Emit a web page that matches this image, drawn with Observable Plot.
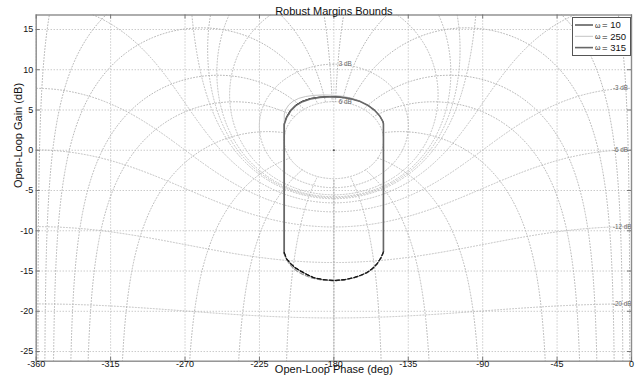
<!DOCTYPE html>
<html><head><meta charset="utf-8">
<script src="https://cdn.jsdelivr.net/npm/d3@7"></script>
<script src="https://cdn.jsdelivr.net/npm/@observablehq/plot@0.6"></script>
<style>
body{margin:0;background:#fff;}
#wrap{position:relative;width:637px;height:380px;font-family:"Liberation Sans",Arial,sans-serif;}
#legend{position:absolute;left:572px;top:17px;}
</style></head><body><div id="wrap"></div>
<script>
// ---- text ----
const title = "Robust Margins Bounds";
const xLabel = "Open-Loop Phase (deg)";
const yLabel = "Open-Loop Gain (dB)";
const xTicks = [-360, -315, -270, -225, -180, -135, -90, -45, 0];
const yTicks = [-25, -20, -15, -10, -5, 0, 5, 10, 15];

// ---- Nichols grid levels ----
const gridGainDb = [6, 3, 1, 0.5, 0.25, 0, -1, -3, -6, -12, -20, -40];
const gridPhaseDeg = [1, 5, 10, 20, 30, 50, 90, 120, 150, 180];
const labelTopDb = [6, 3];
const labelRightDb = [-3, -6, -12, -20];

// ---- bound curves ----
const omegas = [10, 250, 315];
const w10UpperPhase = [-210, -210, -208.6, -206.3, -203.2, -199.2, -194.4, -188.6, -182.5, -176.3, -170.3, -164.6, -159.6, -155.4, -152.2, -150.3, -150, -150];
const w10UpperGain  = [-12.8, 3.3, 4.15, 4.95, 5.6, 6.08, 6.42, 6.6, 6.67, 6.62, 6.45, 6.12, 5.62, 4.98, 4.25, 3.55, 3.3, -12.7];
const w10LowerPhase = [-210, -208.6, -206.2, -203.3, -200.2, -196.2, -192.1, -186.2, -180, -173.8, -168, -163.8, -159.9, -156.6, -153.8, -151.6, -150];
const w10LowerGain  = [-12.8, -13.5, -14.1, -14.6, -15.0, -15.45, -15.85, -16.1, -16.2, -16.1, -15.85, -15.55, -15.2, -14.7, -14.1, -13.4, -12.7];

const w250UpperPhase = [-210, -210, -209, -207.2, -204.6, -201.2, -197, -192, -186.5, -180.5, -174.5, -168.8, -163.5, -158.8, -155, -152.2, -150.4, -150, -150];
const w250UpperGain  = [-12.9, 4.5, 5.1, 5.65, 6.1, 6.45, 6.68, 6.82, 6.87, 6.83, 6.7, 6.45, 6.08, 5.55, 4.95, 4.25, 3.6, 3.3, -12.7];
const w250LowerPhase = [-210, -209, -207.5, -205, -202, -198, -193, -187, -180, -173.8, -168, -163.8, -159.9, -156.6, -153.8, -151.6, -150];
const w250LowerGain  = [-12.9, -13.4, -13.95, -14.55, -15.05, -15.5, -15.9, -16.12, -16.2, -16.1, -15.85, -15.55, -15.2, -14.7, -14.1, -13.4, -12.7];

const w315UpperPhase = [-210, -210, -208.5, -206.1, -203, -199, -194.2, -188.5, -182.4, -176.3, -170.3, -164.6, -159.6, -155.4, -152.2, -150.3, -150, -150];
const w315UpperGain  = [-12.7, 3.2, 4.1, 4.9, 5.55, 6.04, 6.38, 6.57, 6.64, 6.6, 6.43, 6.1, 5.6, 4.97, 4.25, 3.55, 3.3, -12.6];
const w315LowerPhase = [-210, -208.7, -206.3, -203.4, -200.3, -196.3, -192.1, -186.2, -180, -173.8, -168, -163.8, -159.9, -156.6, -153.8, -151.6, -150];
const w315LowerGain  = [-12.7, -13.45, -14.05, -14.58, -14.98, -15.43, -15.83, -16.08, -16.18, -16.08, -15.83, -15.53, -15.18, -14.68, -14.08, -13.38, -12.6];

const seriesStroke = ["#000000", "#c4c4c4", "#676767"];
const seriesWidth = [1, 1, 1.6];

// ---- build tables ----
function zip(ph, g, key) { return ph.map((p, i) => ({phase: p, gain: g[i], key})); }
const upper = [
  ...zip(w10UpperPhase, w10UpperGain, 0),
  ...zip(w250UpperPhase, w250UpperGain, 1),
  ...zip(w315UpperPhase, w315UpperGain, 2)];
const lower = [
  ...zip(w10LowerPhase, w10LowerGain, 0),
  ...zip(w250LowerPhase, w250LowerGain, 1),
  ...zip(w315LowerPhase, w315LowerGain, 2)];

// Nichols grid: closed-loop T mapped to open-loop L = T/(1-T)
function nichols(tr, ti) {
  const br = 1 - tr, bi = -ti, d = br*br + bi*bi;
  const lr = (tr*br + ti*bi)/d, li = (ti*br - tr*bi)/d;
  let ph = Math.atan2(li, lr)*180/Math.PI;
  if (ph > 0) ph -= 360;
  return [ph, 20*Math.log10(Math.hypot(lr, li))];
}
const gridLines = [];
let segId = 0;
function pushSeq(pts) {
  let prev = null;
  segId++;
  for (const [ph, g] of pts) {
    if (!isFinite(g) || !isFinite(ph)) { prev = null; segId++; continue; }
    if (prev !== null && Math.abs(ph - prev) > 180) segId++;
    gridLines.push({phase: ph, gain: Math.max(-300, Math.min(300, g)), id: segId});
    prev = ph;
  }
}
for (const db of gridGainDb) {
  const M = Math.pow(10, db/20), N = 2400, pts = [];
  for (let k = 0; k <= N; k++) {
    const th = (k + 0.5)/N*2*Math.PI;
    pts.push(nichols(M*Math.cos(th), M*Math.sin(th)));
  }
  pushSeq(pts);
}
// phase contours run from low closed-loop gain up to the highest gain contour
const maxGridDb = Math.max(...gridGainDb);
for (const p of gridPhaseDeg) {
  for (const s of [1, -1]) {
    const th = s*p*Math.PI/180, pts = [];
    const kMax = maxGridDb/20*100;
    for (let k = -500; k <= kMax + 1e-9; k += 0.5) {
      const r = Math.pow(10, k/100);
      pts.push(nichols(r*Math.cos(th), r*Math.sin(th)));
    }
    pushSeq(pts);
  }
}
const gridLabels = [
  ...labelTopDb.map(db => { const M = Math.pow(10, db/20); return {phase: -180, gain: 20*Math.log10(M/(M-1)), text: db + " dB", side: "top"}; }),
  ...labelRightDb.map(db => { const M = Math.pow(10, db/20); return {phase: 0, gain: 20*Math.log10(M/(1-M)), text: db + " dB", side: "right"}; })
];

const W = 637, H = 380, mT = 14.5, mB = 19.3, mL = 35.7, mR = 6;
const plotH = H - mT - mB, plotW = W - mL - mR;
const fmt = d => String(d);
const dotted = {stroke: "#b2b2b2", strokeWidth: 1, strokeDasharray: "1,2"};

const chart = Plot.plot({
  width: W, height: H, marginTop: mT, marginBottom: mB, marginLeft: mL, marginRight: mR,
  x: {domain: [-360, 0]}, y: {domain: [-26.2, 16.8]},
  style: {fontFamily: "'Liberation Sans', Arial, sans-serif", background: "#fff", overflow: "visible"},
  marks: [
    Plot.gridX(xTicks, {...dotted, strokeOpacity: 1}),
    Plot.gridY(yTicks, {...dotted, strokeOpacity: 1}),
    Plot.line(gridLines, {x: "phase", y: "gain", z: "id", ...dotted, stroke: "#b8b8b8", clip: true, curve: "linear"}),
    Plot.text(gridLabels.filter(d => d.side === "top"), {x: "phase", y: "gain", text: "text", textAnchor: "start", dx: 5, fontSize: 6.3, fill: "#666"}),
    Plot.text(gridLabels.filter(d => d.side === "right"), {x: "phase", y: "gain", text: "text", textAnchor: "start", dx: -18.5, fontSize: 6.3, fill: "#666"}),
    ...[0, 1, 2].map(i => Plot.line(upper.filter(d => d.key === i), {x: "phase", y: "gain", stroke: seriesStroke[i], strokeWidth: seriesWidth[i], clip: true})),
    ...[0, 1, 2].map(i => Plot.line(lower.filter(d => d.key === i), {x: "phase", y: "gain", stroke: i === 1 ? "#9a9a9a" : "#111", strokeWidth: 1.2, strokeDasharray: "4,2.2", clip: true})),
    Plot.dot([{phase: -180, gain: 0}], {x: "phase", y: "gain", r: 1.1, fill: "#555", stroke: null}),
    Plot.frame({stroke: "#8c8c8c", strokeWidth: 1.4}),
    Plot.tickX(xTicks, {x: d => d, insetTop: plotH - 4, stroke: "#777"}),
    Plot.tickX(xTicks, {x: d => d, insetBottom: plotH - 4, stroke: "#777"}),
    Plot.tickY(yTicks, {y: d => d, insetRight: plotW - 4, stroke: "#777"}),
    Plot.tickY(yTicks, {y: d => d, insetLeft: plotW - 4, stroke: "#777"}),
    Plot.axisX(xTicks, {tickSize: 0, tickPadding: 0, dy: -0.5, fontSize: 9, tickFormat: fmt, label: null, fill: "#111"}),
    Plot.axisY(yTicks, {tickSize: 0, tickPadding: 3, fontSize: 9, tickFormat: fmt, label: null, fill: "#111"}),
    Plot.text([title], {frameAnchor: "top", dy: -8, fontSize: 11, fill: "#111"}),
    Plot.text([xLabel], {frameAnchor: "bottom", dy: 12, fontSize: 11, fill: "#111"}),
    Plot.text([yLabel], {frameAnchor: "left", dx: -18.2, rotate: -90, fontSize: 11, fill: "#111"})
  ]
});
const wrap = document.getElementById("wrap");
wrap.appendChild(chart);

// legend
const rows = omegas.map((w, i) => {
  const y = 8 + i*11.3;
  return `<line x1="3" x2="21" y1="${y}" y2="${y}" stroke="${seriesStroke[i]}" stroke-width="${seriesWidth[i]}"/>
  <text x="23" y="${y + 2.5}" font-size="7" fill="#111">ω</text>
  <text x="30" y="${y + 3.3}" font-size="9.5" fill="#111">= ${w}</text>`;
}).join("");
const leg = document.createElement("div");
leg.id = "legend";
leg.innerHTML = `<svg width="59" height="39" style="display:block;font-family:'Liberation Sans',Arial,sans-serif"><rect x="0.5" y="0.5" width="58" height="38" fill="#fff" stroke="#555"/>${rows}</svg>`;
wrap.appendChild(leg);
</script></body></html>
